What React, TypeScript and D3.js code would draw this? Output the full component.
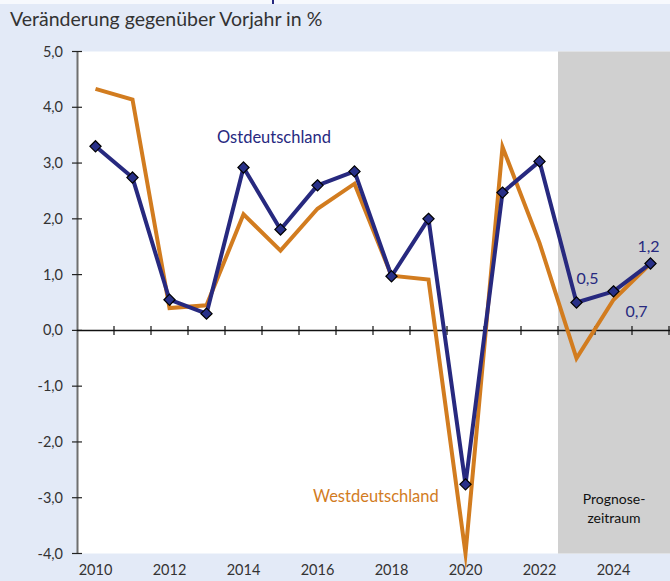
import React from "react";
import * as d3 from "d3";

const years = ["2010","2011","2012","2013","2014","2015","2016","2017","2018","2019","2020","2021","2022","2023","2024","2025"];
const ost = [3.3, 2.74, 0.55, 0.3, 2.92, 1.81, 2.6, 2.85, 0.97, 2.0, -2.76, 2.47, 3.03, 0.5, 0.7, 1.2];
const west = [4.33, 4.14, 0.4, 0.45, 2.08, 1.43, 2.18, 2.63, 0.98, 0.91, -4.0, 3.29, 1.57, -0.5, 0.55, 1.2];
const yTicks = [5, 4, 3, 2, 1, 0, -1, -2, -3, -4];
const xLabelYears = ["2010","2012","2014","2016","2018","2020","2022","2024"];
const forecastYears = ["2023","2024","2025"];
const ostLabels = [
  { year: "2023", text: "0,5", dx: 11, dy: -24 },
  { year: "2024", text: "0,7", dx: 23, dy: 21 },
  { year: "2025", text: "1,2", dx: -2, dy: -16 },
];

const W = 670, H = 581;
const FONT = "'Lato', 'Open Sans', sans-serif";
const BLUE = "#27297f";
const ORANGE = "#d27c1f";

export default function App() {
  const x = d3.scaleBand().domain(years).range([77, 669]).paddingInner(0).paddingOuter(0);
  const y = d3.scaleLinear().domain([-4, 5]).range([553.5, 51.5]);
  const cx = (yr: string) => (x(yr) as number) + x.bandwidth() / 2;
  const line = d3.line<number>().x((_, i) => cx(years[i])).y((d) => y(d));
  const fmt = (v: number) => v.toFixed(1).replace(".", ",");
  const boundaries = d3.range(1, years.length + 1).map((i) => 77 + i * x.bandwidth());
  const fx0 = x(forecastYears[0]) as number;
  const diamond = d3.symbol().type(d3.symbolDiamond2).size(80)();

  return (
    <svg width={W} height={H} style={{ position: "absolute", left: 0, top: 0, fontFamily: FONT }}>
      <rect x={0} y={0} width={W} height={H} fill="#e3eaf7" />
      <rect x={0} y={0} width={W} height={4} fill="#f7f9fd" />
      <rect x={272} y={0} width={2} height={4} fill={BLUE} />
      <text x={10} y={26} fontSize={19.5} fill="#333">Veränderung gegenüber Vorjahr in %</text>
      {/* plot area */}
      <rect x={78} y={y(5)} width={W - 78} height={y(-4) - y(5)} fill="#ffffff" />
      <rect x={fx0} y={y(5)} width={W - fx0} height={y(-4) - y(5)} fill="#d0d0d0" />
      <text x={fx0 + (W - fx0) / 2} y={504} textAnchor="middle" fontSize={14} fill="#111">Prognose-</text>
      <text x={fx0 + (W - fx0) / 2} y={523} textAnchor="middle" fontSize={14} fill="#111">zeitraum</text>
      {/* y axis */}
      <line x1={77.5} x2={77.5} y1={y(5)} y2={y(-4)} stroke="#6f6f6f" strokeWidth={2} />
      {yTicks.map((t) => (
        <g key={t}>
          <line x1={72} x2={82} y1={y(t)} y2={y(t)} stroke="#222" strokeWidth={1.2} />
          <text x={63} y={y(t) + 5} textAnchor="end" fontSize={14.5} fill="#333">{fmt(t)}</text>
        </g>
      ))}
      {/* zero line */}
      <line x1={77} x2={W} y1={y(0)} y2={y(0)} stroke="#111" strokeWidth={1.5} />
      {boundaries.map((b, i) => (
        <line key={i} x1={b} x2={b} y1={y(0) - 4.5} y2={y(0) + 4.5} stroke="#111" strokeWidth={1.2} />
      ))}
      {xLabelYears.map((yr) => (
        <text key={yr} x={cx(yr)} y={575} textAnchor="middle" fontSize={14.5} fill="#333">{yr}</text>
      ))}
      {/* series */}
      <path d={line(west) as string} fill="none" stroke={ORANGE} strokeWidth={4} strokeLinejoin="miter" strokeMiterlimit={10} />
      <path d={line(ost) as string} fill="none" stroke={BLUE} strokeWidth={4} strokeLinejoin="round" />
      {ost.map((v, i) => (
        <path key={i} d={diamond as string} transform={`translate(${cx(years[i])},${y(v)})`} fill="#283088" stroke="#000" strokeWidth={1.2} />
      ))}
      <text x={217} y={143} fontSize={16.5} fill={BLUE}>Ostdeutschland</text>
      <text x={313} y={502} fontSize={16.5} fill={ORANGE}>Westdeutschland</text>
      {ostLabels.map((l) => {
        const i = years.indexOf(l.year);
        return (
          <text key={l.year} x={cx(l.year) + l.dx} y={y(ost[i]) + l.dy + 5} textAnchor="middle" fontSize={16} fill={BLUE}>{l.text}</text>
        );
      })}
    </svg>
  );
}
